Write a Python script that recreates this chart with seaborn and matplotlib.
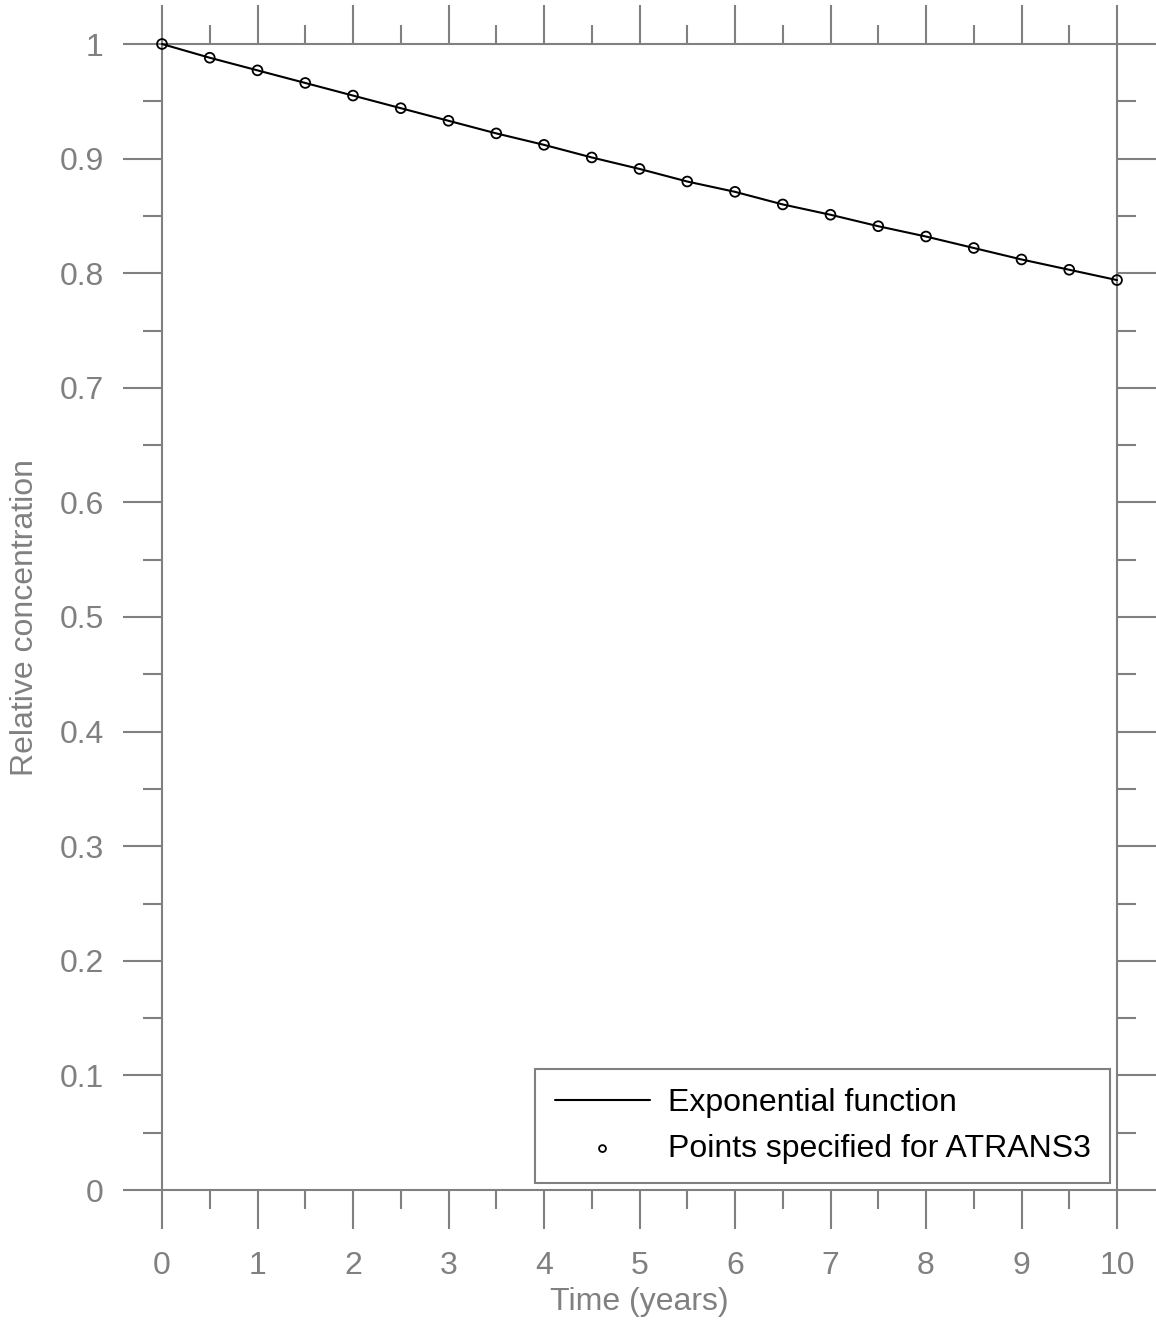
import numpy as np
import pandas as pd
import matplotlib
matplotlib.use("Agg")
import matplotlib.pyplot as plt
import seaborn as sns
from matplotlib.ticker import MultipleLocator

# Data
time_years = [0, 0.5, 1, 1.5, 2, 2.5, 3, 3.5, 4, 4.5, 5,
              5.5, 6, 6.5, 7, 7.5, 8, 8.5, 9, 9.5, 10]
rel_conc = [1.000, 0.988, 0.977, 0.966, 0.955, 0.944, 0.933, 0.922, 0.912, 0.901, 0.891,
            0.880, 0.871, 0.860, 0.851, 0.841, 0.832, 0.822, 0.812, 0.803, 0.794]
x_ticks = [0, 1, 2, 3, 4, 5, 6, 7, 8, 9, 10]
y_ticks = [0, 0.1, 0.2, 0.3, 0.4, 0.5, 0.6, 0.7, 0.8, 0.9, 1]
y_tick_labels = ["0", "0.1", "0.2", "0.3", "0.4", "0.5", "0.6", "0.7", "0.8", "0.9", "1"]
line_label = "Exponential function"
points_label = "Points specified for ATRANS3"

df = pd.DataFrame({"t": time_years, "c": rel_conc})

sns.set_style("white")
plt.rcParams["font.family"] = ["Liberation Sans", "DejaVu Sans"]

GRAY = "#808080"
FS = 23
fig = plt.figure(figsize=(11.56, 13.23), dpi=100)
ax = fig.add_axes([162 / 1156, 1 - 1190 / 1323, (1117 - 162) / 1156, (1190 - 44) / 1323])

sns.lineplot(data=df, x="t", y="c", ax=ax, color="black", linewidth=1.5,
             label=line_label, zorder=3)
sns.scatterplot(data=df, x="t", y="c", ax=ax, marker="o", s=50,
                facecolor="none", edgecolor="black", linewidth=1.3,
                label=points_label, zorder=4)
for coll in ax.collections:
    coll.set_clip_on(False)
for ln in ax.lines:
    ln.set_clip_on(False)

ax.set_xlim(0, 10)
ax.set_ylim(0, 1)
ax.set_xticks(x_ticks)
ax.set_xticklabels([str(v) for v in x_ticks])
ax.set_yticks(y_ticks)
ax.set_yticklabels(y_tick_labels)
ax.xaxis.set_minor_locator(MultipleLocator(0.5))
ax.yaxis.set_minor_locator(MultipleLocator(0.05))

for sp in ax.spines.values():
    sp.set_visible(True)
    sp.set_color(GRAY)
    sp.set_linewidth(1.5)
    sp.set_zorder(1)

ax.tick_params(which="both", direction="out", top=True, right=True,
               bottom=True, left=True, color=GRAY, width=1.5)
ax.tick_params(which="major", length=28)
ax.tick_params(which="minor", length=14)
ax.tick_params(axis="x", which="major", pad=16, labelsize=FS, labelcolor=GRAY)
ax.tick_params(axis="y", which="major", pad=14, labelsize=FS, labelcolor=GRAY)

ax.set_xlabel("Time (years)", fontsize=FS, color=GRAY, labelpad=4)
ax.set_ylabel("Relative concentration", fontsize=FS, color=GRAY, labelpad=14)

handles, labels = ax.get_legend_handles_labels()
leg = ax.legend(handles, labels, loc="lower right", bbox_to_anchor=(0.9927, 0.006),
                fontsize=FS, frameon=True, fancybox=False, framealpha=1,
                edgecolor=GRAY, handlelength=3.0, handletextpad=0.55,
                borderpad=0.6, labelspacing=0.5, markerscale=0.7,
                borderaxespad=0.0)
leg.get_frame().set_linewidth(1.5)
for txt in leg.get_texts():
    txt.set_color("black")

fig.savefig("out.png", dpi=100)
